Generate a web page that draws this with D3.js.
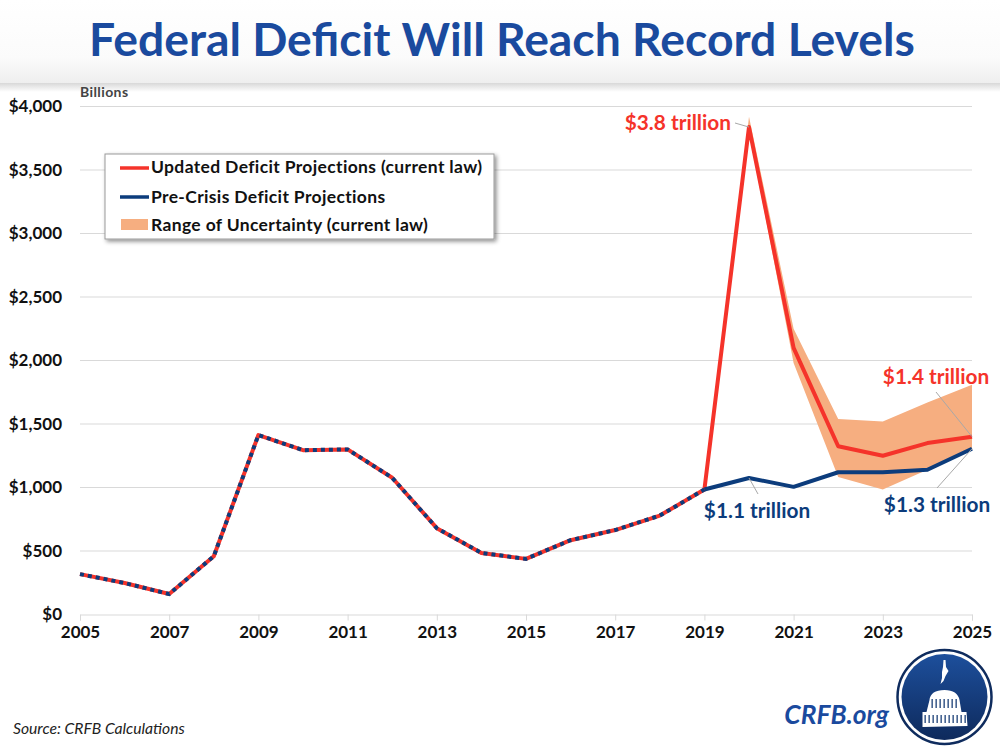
<!DOCTYPE html>
<html>
<head>
<meta charset="utf-8">
<script src="https://cdn.jsdelivr.net/npm/d3@7"></script>
<style>
html, body { margin: 0; padding: 0; background: #fff; }
text { font-family: Lato, "Open Sans", sans-serif; }
</style>
</head>
<body>
<div id="chart"></div>
<script>
// values, in billions
var years = [2005, 2006, 2007, 2008, 2009, 2010, 2011, 2012, 2013, 2014, 2015, 2016, 2017, 2018, 2019, 2020, 2021, 2022, 2023, 2024, 2025];
var updated = [318, 248, 161, 459, 1413, 1294, 1300, 1077, 680, 485, 438, 585, 665, 779, 984, 3838, 2100, 1325, 1250, 1350, 1400];
var preCrisis = [318, 248, 161, 459, 1413, 1294, 1300, 1077, 680, 485, 438, 585, 665, 779, 984, 1075, 1005, 1120, 1120, 1140, 1305];
var rangeYears = [2019, 2020, 2021, 2022, 2023, 2024, 2025];
var rangeHigh = [984, 3920, 2250, 1540, 1520, 1670, 1810];
var rangeLow = [984, 3800, 1980, 1083, 985, 1140, 1300];
var yTicks = [0, 500, 1000, 1500, 2000, 2500, 3000, 3500, 4000];
var xTicks = [2005, 2007, 2009, 2011, 2013, 2015, 2017, 2019, 2021, 2023, 2025];
var legendLabels = ["Updated Deficit Projections (current law)", "Pre-Crisis Deficit Projections", "Range of Uncertainty (current law)"];

var red = "#f5332a", navy = "#0c3c7c", band = "#f6ae80", titleBlue = "#1a4a9e";

var svg = d3.select("#chart").append("svg")
	.attr("width", 1000)
	.attr("height", 750)
	.style("display", "block");

var defs = svg.append("defs");

var headGrad = defs.append("linearGradient").attr("id", "head").attr("x1", 0).attr("x2", 0).attr("y1", 0).attr("y2", 1);
headGrad.append("stop").attr("offset", "0%").attr("stop-color", "#ffffff");
headGrad.append("stop").attr("offset", "70%").attr("stop-color", "#fbfbfb");
headGrad.append("stop").attr("offset", "100%").attr("stop-color", "#eeeeee");

var fadeGrad = defs.append("linearGradient").attr("id", "fade").attr("x1", 0).attr("x2", 0).attr("y1", 0).attr("y2", 1);
fadeGrad.append("stop").attr("offset", "0%").attr("stop-color", "#d8d8d8");
fadeGrad.append("stop").attr("offset", "100%").attr("stop-color", "#ffffff");

var logoGrad = defs.append("linearGradient").attr("id", "logoFill").attr("x1", 0).attr("x2", 0).attr("y1", 0).attr("y2", 1);
logoGrad.append("stop").attr("offset", "0%").attr("stop-color", "#1d4f9c");
logoGrad.append("stop").attr("offset", "100%").attr("stop-color", "#0e2a5c");

var blur = defs.append("filter").attr("id", "shadow").attr("x", "-5%").attr("y", "-10%").attr("width", "110%").attr("height", "125%");
blur.append("feDropShadow").attr("dx", 2).attr("dy", 2).attr("stdDeviation", 2).attr("flood-color", "#000").attr("flood-opacity", 0.45);

// header band
svg.append("rect").attr("x", 0).attr("y", 0).attr("width", 1000).attr("height", 83).attr("fill", "url(#head)");
svg.append("rect").attr("x", 0).attr("y", 83).attr("width", 1000).attr("height", 9).attr("fill", "url(#fade)");

svg.append("text")
	.attr("x", 502)
	.attr("y", 56)
	.attr("text-anchor", "middle")
	.attr("font-size", 46.3)
	.attr("font-weight", 700)
	.attr("fill", titleBlue)
	.text("Federal Deficit Will Reach Record Levels");

// scales
var x = d3.scaleLinear().domain([2005, 2025]).range([80, 972]);
var y = d3.scaleLinear().domain([0, 4000]).range([614.5, 106.5]);

// gridlines
svg.append("g").selectAll("line")
	.data(yTicks.slice(1))
	.join("line")
	.attr("x1", x(2005))
	.attr("x2", x(2025))
	.attr("y1", function(d) { return y(d); })
	.attr("y2", function(d) { return y(d); })
	.attr("stroke", "#d9d9d9")
	.attr("stroke-width", 1);

// axes
var xAxis = svg.append("g")
	.attr("transform", "translate(0," + y(0) + ")")
	.call(d3.axisBottom(x).tickValues(xTicks).tickFormat(d3.format("d")).tickSize(6).tickPadding(5));
xAxis.select(".domain").attr("stroke", "#d9d9d9").attr("stroke-width", 1);
xAxis.selectAll("line").attr("stroke", "#d9d9d9");
xAxis.selectAll("text").attr("font-size", 17).attr("font-weight", 700).attr("fill", "#111").style("font-family", "Lato");

var yAxis = svg.append("g")
	.attr("transform", "translate(62,0)")
	.call(d3.axisLeft(y).tickValues(yTicks).tickFormat(function(d) { return "$" + d3.format(",")(d); }).tickSize(0).tickPadding(0));
yAxis.select(".domain").remove();
yAxis.selectAll("text").attr("font-size", 17).attr("font-weight", 700).attr("fill", "#111").style("font-family", "Lato");

svg.append("text")
	.attr("x", 80)
	.attr("y", 97)
	.attr("font-size", 14)
	.attr("letter-spacing", 0.4)
	.attr("font-weight", 700)
	.attr("fill", "#444")
	.text("Billions");

// range of uncertainty
var area = d3.area()
	.x(function(d) { return x(rangeYears[d]); })
	.y0(function(d) { return y(rangeLow[d]); })
	.y1(function(d) { return y(rangeHigh[d]); });

svg.append("path")
	.attr("d", area(d3.range(rangeYears.length)))
	.attr("fill", band);

// lines
function partPath(values, from, to) {
	return d3.line()
		.x(function(d) { return x(years[d]); })
		.y(function(d) { return y(values[d]); })(d3.range(from, to + 1));
}

svg.append("path")
	.attr("d", partPath(updated, 0, years.length - 1))
	.attr("fill", "none")
	.attr("stroke", red)
	.attr("stroke-width", 4)
	.attr("stroke-linejoin", "round");

// pre-crisis is dotted while it runs on top of the red line, then solid
var split = years.indexOf(2019);

svg.append("path")
	.attr("d", partPath(preCrisis, 0, split))
	.attr("fill", "none")
	.attr("stroke", navy)
	.attr("stroke-width", 4)
	.attr("stroke-dasharray", "4 4");

svg.append("path")
	.attr("d", partPath(preCrisis, split, years.length - 1))
	.attr("fill", "none")
	.attr("stroke", navy)
	.attr("stroke-width", 4)
	.attr("stroke-linejoin", "round");

// callouts
var callouts = [
	{ text: "$3.8 trillion", x: 731, y: 130, anchor: "end", color: red, from: [735, 123], to: [2020, 3838] },
	{ text: "$1.4 trillion", x: 936, y: 384, anchor: "middle", color: red, from: [936, 392], to: [2025, 1400] },
	{ text: "$1.1 trillion", x: 757, y: 518, anchor: "middle", color: navy, from: [758, 494], to: [2020, 1075] },
	{ text: "$1.3 trillion", x: 937, y: 512, anchor: "middle", color: navy, from: [937, 488], to: [2025, 1305] }
];

svg.append("g").selectAll("line")
	.data(callouts)
	.join("line")
	.attr("x1", function(d) { return d.from[0]; })
	.attr("y1", function(d) { return d.from[1]; })
	.attr("x2", function(d) { return x(d.to[0]); })
	.attr("y2", function(d) { return y(d.to[1]); })
	.attr("stroke", "#a8a8a8")
	.attr("stroke-width", 1);

svg.append("g").selectAll("text")
	.data(callouts)
	.join("text")
	.attr("x", function(d) { return d.x; })
	.attr("y", function(d) { return d.y; })
	.attr("text-anchor", function(d) { return d.anchor; })
	.attr("font-size", 20.8)
	.attr("font-weight", 700)
	.attr("fill", function(d) { return d.color; })
	.text(function(d) { return d.text; });

// legend
var legend = svg.append("g");
legend.append("rect")
	.attr("x", 105)
	.attr("y", 154)
	.attr("width", 389)
	.attr("height", 85)
	.attr("fill", "#fff")
	.attr("stroke", "#9a9a9a")
	.attr("stroke-width", 1)
	.attr("filter", "url(#shadow)");

var legendRows = [167, 197, 225];
legend.append("line").attr("x1", 120).attr("x2", 149).attr("y1", 168).attr("y2", 168).attr("stroke", red).attr("stroke-width", 3.5);
legend.append("line").attr("x1", 120).attr("x2", 149).attr("y1", 197).attr("y2", 197).attr("stroke", navy).attr("stroke-width", 3.5);
legend.append("rect").attr("x", 121).attr("y", 219).attr("width", 27).attr("height", 11).attr("fill", band);

legend.selectAll("text")
	.data(legendLabels)
	.join("text")
	.attr("x", 151)
	.attr("y", function(d, i) { return legendRows[i] + 6; })
	.attr("font-size", 17.5)
	.attr("letter-spacing", 0.35)
	.attr("font-weight", 700)
	.attr("fill", "#111")
	.text(function(d) { return d; });

// footer
svg.append("text")
	.attr("x", 13)
	.attr("y", 734)
	.attr("font-size", 15.7)
	.attr("font-style", "italic")
	.attr("fill", "#222")
	.text("Source: CRFB Calculations");

svg.append("text")
	.attr("x", 889)
	.attr("y", 724)
	.attr("text-anchor", "end")
	.attr("font-size", 26.3)
	.attr("font-weight", 700)
	.attr("font-style", "italic")
	.attr("fill", titleBlue)
	.text("CRFB.org");

// logo
var logo = svg.append("g").attr("transform", "translate(944.5,697)");
logo.append("circle").attr("r", 47).attr("fill", "#fff").attr("stroke", "#0f2c5e").attr("stroke-width", 2.5);
logo.append("circle").attr("r", 43).attr("fill", "url(#logoFill)");
logo.append("path").attr("fill", "#fff").attr("d", "M-1,-37 L1,-37 L1.5,-30 L4,-26 L1,-21 L-1,-16 L-4,-13 L-2.5,-19 L-2.5,-25 L-1.5,-30 Z");
logo.append("path").attr("fill", "#fff").attr("d", "M-15,3 Q-14,-7 0,-7 Q13,-7 15,3 L17,15 L-18,15 Z");
logo.append("path").attr("fill", "#fff").attr("d", "M-22,15 L22,15 L23,29 L-22,30 Z");
logo.append("g").selectAll("rect")
	.data(d3.range(-20, 21, 4))
	.join("rect")
	.attr("x", function(d) { return d; })
	.attr("y", 18)
	.attr("width", 1.3)
	.attr("height", 8)
	.attr("fill", "#1d4178");
logo.append("g").selectAll("rect")
	.data(d3.range(-13, 14, 4))
	.join("rect")
	.attr("x", function(d) { return d; })
	.attr("y", 2)
	.attr("width", 1.3)
	.attr("height", 9)
	.attr("fill", "#1d4178");
</script>
</body>
</html>
